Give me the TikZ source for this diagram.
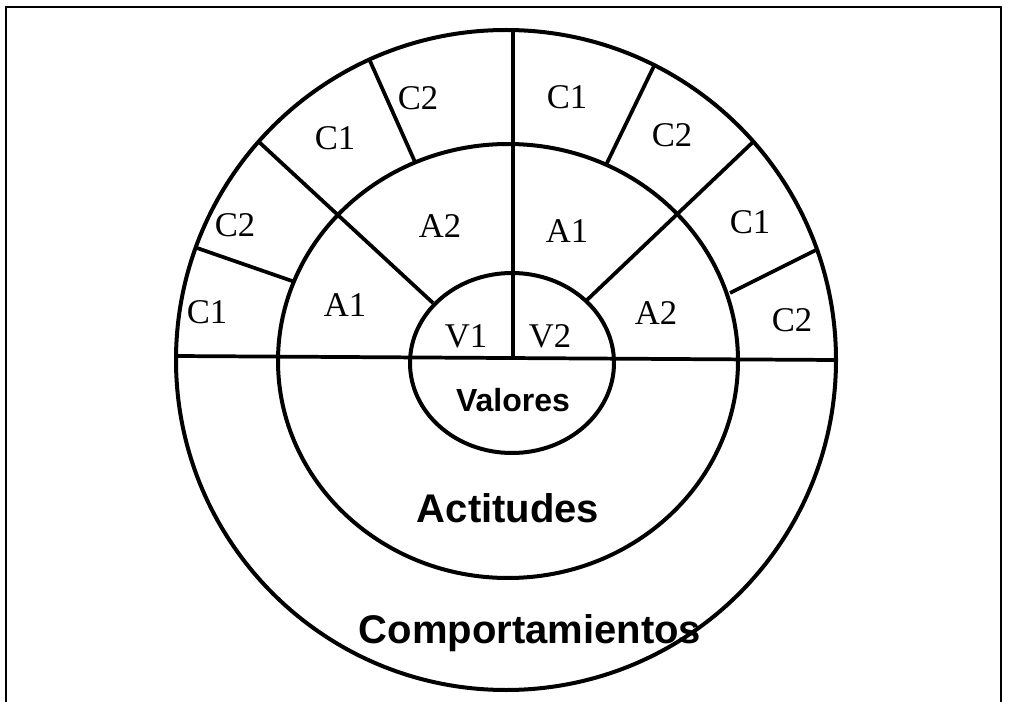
\documentclass[tikz,border=0pt]{standalone}
\usepackage{fontspec}
\setmainfont{Liberation Serif}
\newfontfamily\arialfont{Liberation Sans}
\begin{document}
\begin{tikzpicture}
    [x=0.75pt,y=-0.75pt,
     ring/.style={line width=3pt},
     sector/.style={line width=2.8pt},
     lab/.style={font=\fontsize{26}{26}\selectfont},
     big/.style={font=\fontsize{30}{30}\selectfont\arialfont\bfseries}]
    \useasboundingbox (0,0) rectangle (1014,702);
    % frame
    \draw [line width=2.2pt] (6,702) -- (6,7) -- (1001,7) -- (1001,702);
    % rings
    \draw [ring] (506,360) ellipse [x radius=247.5pt, y radius=247.5pt];
    \draw [ring] (508,361) ellipse [x radius=172.5pt, y radius=162.75pt];
    \draw [ring] (512,363) ellipse [x radius=76.5pt, y radius=67.5pt];
    % dividers
    \draw [sector] (175,356) -- (836,360);
    \draw [sector] (513,358) -- (513,30);
    \draw [sector] (433,303) -- (259,142);
    \draw [sector] (587,300) -- (753,142);
    \draw [sector] (197,248) -- (295,282);
    \draw [sector] (370,61) -- (415,162);
    \draw [sector] (654,66) -- (606,165);
    \draw [sector] (816,250) -- (730,293);
    % labels
    \node [lab] (c1a) at (207,312) {C1};
    \node [lab] (c2a) at (235,225) {C2};
    \node [lab] (c1b) at (335,138) {C1};
    \node [lab] (c2b) at (418,98) {C2};
    \node [lab] (c1c) at (567,97) {C1};
    \node [lab] (c2c) at (672,135) {C2};
    \node [lab] (c1d) at (750,222) {C1};
    \node [lab] (c2d) at (792,320) {C2};
    \node [lab] (a1a) at (345,305) {A1};
    \node [lab] (a2a) at (440,226) {A2};
    \node [lab] (a1b) at (567,231) {A1};
    \node [lab] (a2b) at (656,313) {A2};
    \node [lab] (v1) at (466,336) {V1};
    \node [lab] (v2) at (550,336) {V2};
    \node [big, font=\fontsize{24}{24}\selectfont\arialfont\bfseries] (val) at (513,400) {Valores};
    \node [big] (act) at (508,508) {Actitudes};
    \node [big] (comp) at (530,633) {Comportamientos};
  \end{tikzpicture}
\end{document}
